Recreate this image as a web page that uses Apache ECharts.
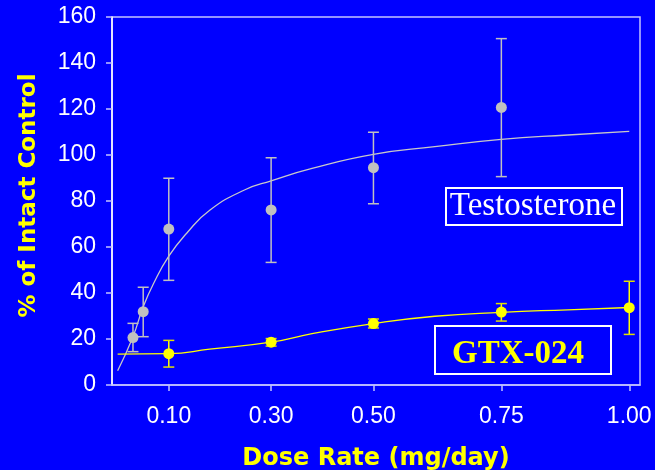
<!DOCTYPE html>
<html>
<head>
<meta charset="utf-8">
<script src="https://cdn.jsdelivr.net/npm/echarts@6/dist/echarts.min.js"></script>
<style>
html,body{margin:0;padding:0;background:#0000ff;}
#c{width:655px;height:470px;}
</style>
</head>
<body>
<div id="c"></div>
<script>
// ---- data ----
const xTicks = [0.10, 0.30, 0.50, 0.75, 1.00];

const testoDose = [0.03, 0.05, 0.10, 0.30, 0.50, 0.75];
const testoMean = [20.6, 31.9, 67.8, 76.1, 94.5, 120.7];
const testoLow  = [14.5, 21.0, 45.5, 53.3, 78.8, 90.6];
const testoHigh = [26.8, 42.5, 89.9, 98.8, 109.9, 150.6];

const gtxDose = [0.10, 0.30, 0.50, 0.75, 1.00];
const gtxMean = [13.6, 18.6, 26.7, 31.7, 33.6];
const gtxLow  = [7.8, 16.9, 24.8, 27.8, 22.0];
const gtxHigh = [19.4, 20.2, 28.7, 35.4, 45.1];

const testoCurveX = [0.0, 0.03, 0.05, 0.07, 0.10, 0.135, 0.18, 0.25, 0.30, 0.38, 0.50, 0.62, 0.75, 0.88, 1.00];
const testoCurveY = [6.2, 21, 34, 44, 56, 66, 76, 85, 88.8, 94.2, 100.3, 103.6, 106.8, 108.7, 110.3];

const gtxCurveX = [0.0, 0.10, 0.18, 0.30, 0.38, 0.50, 0.62, 0.75, 0.88, 1.00];
const gtxCurveY = [13.4, 13.6, 15.6, 18.6, 22.3, 26.7, 29.9, 31.6, 32.7, 33.7];

const testoName = 'Testosterone';
const gtxName = 'GTX-024';

// ---- build ----
const zip2 = (a, b) => a.map((v, i) => [v, b[i]]);
const zip3 = (a, b, c) => a.map((v, i) => [v, b[i], c[i]]);

function errRender(color, capColor) {
  return function (params, api) {
    const x = api.value(0), lo = api.value(1), hi = api.value(2);
    const p1 = api.coord([x, lo]);
    const p2 = api.coord([x, hi]);
    const w = 5.5;
    return {
      type: 'group',
      children: [
        { type: 'line', shape: { x1: p1[0], y1: p1[1], x2: p2[0], y2: p2[1] }, style: { stroke: color, lineWidth: 1.5 } },
        { type: 'line', shape: { x1: p1[0] - w, y1: p1[1], x2: p1[0] + w, y2: p1[1] }, style: { stroke: capColor, lineWidth: 1.5 } },
        { type: 'line', shape: { x1: p2[0] - w, y1: p2[1], x2: p2[0] + w, y2: p2[1] }, style: { stroke: capColor, lineWidth: 1.5 } }
      ]
    };
  };
}

const chart = echarts.init(document.getElementById('c'), null, { renderer: 'canvas' });
chart.setOption({
  backgroundColor: '#0000ff',
  animation: false,
  grid: { left: 112, right: 15, top: 17, bottom: 85, containLabel: false, outerBoundsMode: 'none', show: true, borderColor: '#c4c4ff', borderWidth: 1.5, backgroundColor: 'transparent' },
  xAxis: {
    type: 'value',
    min: -0.011, max: 1.021,
    name: 'Dose Rate (mg/day)',
    nameLocation: 'middle',
    nameGap: 62,
    nameTextStyle: { color: '#ffff00', fontFamily: 'DejaVu Sans', fontWeight: 'bold', fontSize: 24 },
    axisLine: { show: true, onZero: false, lineStyle: { color: '#c4c4ff', width: 1.5 } },
    axisTick: { show: true, length: 6, customValues: xTicks, lineStyle: { color: '#c4c4ff', width: 1.5 } },
    axisLabel: { customValues: xTicks, color: '#ffffff', fontFamily: 'Liberation Sans', fontSize: 23, margin: 20, formatter: v => v.toFixed(2) },
    splitLine: { show: false }
  },
  yAxis: {
    type: 'value',
    min: 0, max: 160, interval: 20,
    name: '% of Intact Control',
    nameLocation: 'middle',
    nameGap: 71,
    nameTextStyle: { color: '#ffff00', fontFamily: 'DejaVu Sans', fontWeight: 'bold', fontSize: 23, padding: [0, 0, 0, 11] },
    axisLine: { show: true, onZero: false, lineStyle: { color: '#ffffff', width: 1.5 } },
    axisTick: { show: true, length: 6, lineStyle: { color: '#c4c4ff', width: 1.5 } },
    axisLabel: { color: '#ffffff', fontFamily: 'Liberation Sans', fontSize: 23, margin: 16 },
    splitLine: { show: false }
  },
  series: [
    { name: testoName + ' fit', type: 'line', data: zip2(testoCurveX, testoCurveY), smooth: 0.5, showSymbol: false, symbol: 'none', lineStyle: { color: '#c8c8c8', width: 1.3 }, z: 2 },
    { name: gtxName + ' fit', type: 'line', data: zip2(gtxCurveX, gtxCurveY), smooth: 0.5, showSymbol: false, symbol: 'none', lineStyle: { color: '#ffff00', width: 1.3 }, z: 2 },
    { name: testoName + ' err', type: 'custom', data: zip3(testoDose, testoLow, testoHigh), renderItem: errRender('#c0c0c0', '#c0c0c0'), encode: { x: 0, y: [1, 2] }, z: 3 },
    { name: gtxName + ' err', type: 'custom', data: zip3(gtxDose, gtxLow, gtxHigh), renderItem: errRender('#ffff00', '#e0e000'), encode: { x: 0, y: [1, 2] }, z: 3 },
    { name: testoName, type: 'scatter', data: zip2(testoDose, testoMean), symbol: 'circle', symbolSize: 11, itemStyle: { color: '#c0c0c0', opacity: 1 }, z: 4 },
    { name: gtxName, type: 'scatter', data: zip2(gtxDose, gtxMean), symbol: 'circle', symbolSize: 11, itemStyle: { color: '#ffff00', opacity: 1 }, z: 4 }
  ],
  graphic: [
    { type: 'rect', shape: { x: 446, y: 188, width: 176, height: 37 }, style: { fill: 'transparent', stroke: '#ffffff', lineWidth: 2 }, z: 10 },
    { type: 'text', x: 533, y: 206, style: { text: testoName, fill: '#ffffff', font: '33px "Liberation Serif"', textAlign: 'center', textVerticalAlign: 'middle' }, z: 10 },
    { type: 'rect', shape: { x: 435, y: 326, width: 176, height: 48 }, style: { fill: 'transparent', stroke: '#ffffff', lineWidth: 2 }, z: 10 },
    { type: 'text', x: 518, y: 354, style: { text: gtxName, fill: '#ffff00', font: 'bold 33px "Liberation Serif"', textAlign: 'center', textVerticalAlign: 'middle' }, z: 10 }
  ]
});
</script>
</body>
</html>
